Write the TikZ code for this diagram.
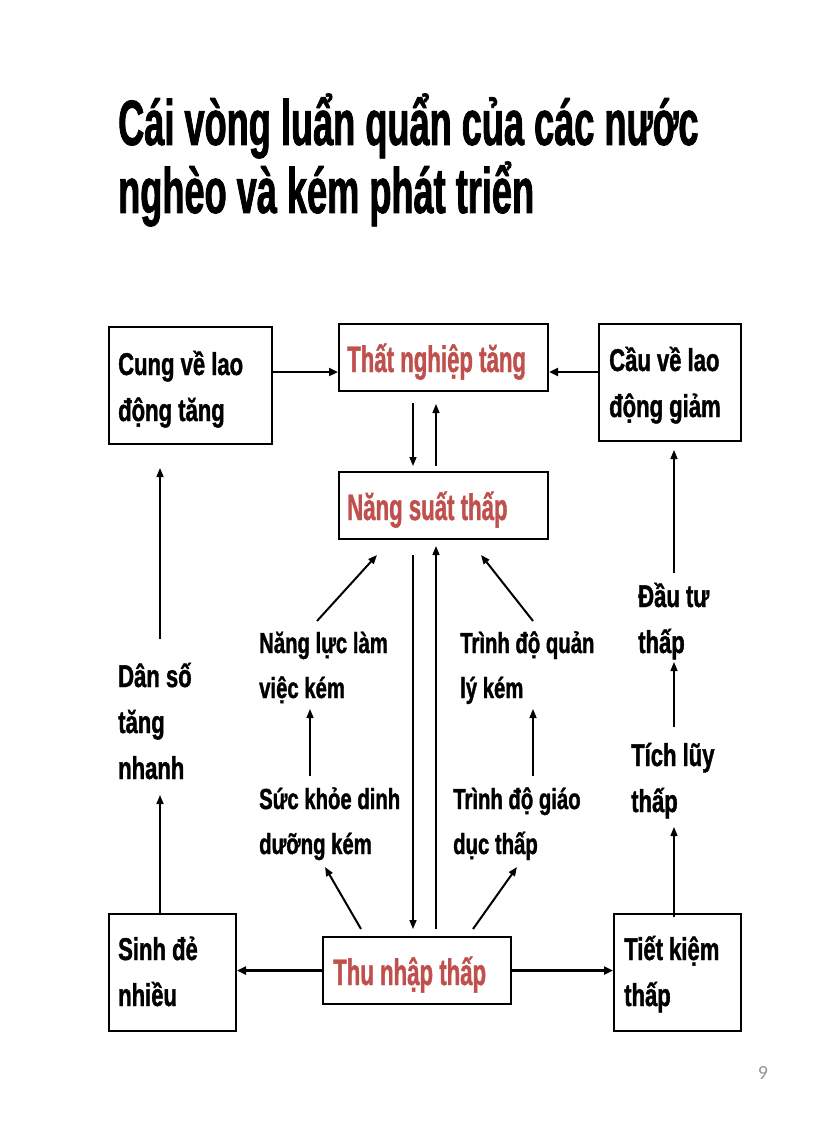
\documentclass[tikz,border=0pt]{standalone}
\usepackage{fontspec}
\setmainfont{Liberation Sans}
\newfontfamily\titlefont{Liberation Sans}[FakeStretch=0.565,FakeBold=1.2]
\newfontfamily\boxfont{Liberation Sans}[FakeStretch=0.70,FakeBold=1.2]
\newfontfamily\redfont{Liberation Sans}[FakeStretch=0.60,FakeBold=1.0]
\newfontfamily\numfont{Carlito}
\usetikzlibrary{arrows.meta,calc}
\definecolor{redtxt}{RGB}{192,80,77}
\definecolor{numgray}{RGB}{150,150,150}
\begin{document}
\begin{tikzpicture}[x=1pt,y=-1pt,
  box/.style={draw, line width=2pt, inner sep=0pt},
  txt/.style={font=\boxfont\bfseries\fontsize{31.5}{46}\selectfont, align=left, inner sep=0pt, anchor=base west},
  stxt/.style={txt, font=\boxfont\bfseries\fontsize{29}{45}\selectfont},
  rtxt/.style={font=\redfont\bfseries\fontsize{37}{46}\selectfont, inner sep=0pt, anchor=base west, text=redtxt},
  arr/.style={-{Triangle[length=9pt,width=7pt]}, line width=1.5pt},
  tarr/.style={-{Triangle[length=9pt,width=8pt]}, line width=2.5pt}]
\useasboundingbox[fill=white] (0,0) rectangle (816,1123);

% title (base anchor = last line)
\node[font=\titlefont\bfseries\fontsize{64}{68}\selectfont, align=left, anchor=base west, inner sep=0pt] (title) at (118,213) {Cái vòng luẩn quẩn của các nước\\nghèo và kém phát triển};

% boxes
\node[box, minimum width=163pt, minimum height=117pt] (cung) at (190.5,385.5) {};
\node[box, minimum width=209pt, minimum height=67pt] (that) at (443.5,357.5) {};
\node[box, minimum width=209pt, minimum height=67pt] (nang) at (443.5,505.5) {};
\node[box, minimum width=142pt, minimum height=117pt] (cau) at (670,382.5) {};
\node[box, minimum width=127pt, minimum height=117pt] (sinh) at (172.5,972.5) {};
\node[box, minimum width=188pt, minimum height=67pt] (thu) at (417,970.5) {};
\node[box, minimum width=127pt, minimum height=117pt] (tiet) at (677.5,972.5) {};

% texts (multi-line nodes anchored at the baseline of their last line)
\node[txt] (tcung) at (118,421) {Cung về lao\\động tăng};
\node[rtxt] (tthat) at (347,372) {Thất nghiệp tăng};
\node[rtxt] (tnang) at (347,520) {Năng suất thấp};
\node[txt] (tcau) at (609,417) {Cầu về lao\\động giảm};
\node[txt] (dan) at (118,779) {Dân số\\tăng\\nhanh};
\node[stxt] (nangluc) at (259,698) {Năng lực làm\\việc kém};
\node[stxt] (quan) at (460,698) {Trình độ quản\\lý kém};
\node[stxt] (suckhoe) at (259,854) {Sức khỏe dinh\\dưỡng kém};
\node[stxt] (giao) at (453,854) {Trình độ giáo\\dục thấp};
\node[txt] (dautu) at (638,653) {Đầu tư\\thấp};
\node[txt] (tichluy) at (631,812) {Tích lũy\\thấp};
\node[txt] (tsinh) at (118,1006) {Sinh đẻ\\nhiều};
\node[rtxt] (tthu) at (333,985) {Thu nhập thấp};
\node[txt] (ttiet) at (624,1006) {Tiết kiệm\\thấp};
\node[font=\numfont\fontsize{20}{20}\selectfont, text=numgray, inner sep=0pt] (page) at (763,1073) {9};

% top row
\draw[tarr] ($(cung.east)+(0,-13.5)$) -- ($(that.west)+(0,14.5)$);
\draw[tarr] ($(cau.west)+(0,-10.5)$) -- ($(that.east)+(0,14.5)$);
\draw[arr] ($(that.south)+(-30.5,11)$) -- ($(nang.north)+(-30.5,-5)$);
\draw[arr] ($(nang.north)+(-7.5,-5)$) -- ($(that.south)+(-7.5,12)$);

% left column
\draw[arr] ($(cung.south)+(-30.5,194)$) -- ($(cung.south)+(-30.5,23)$);
\draw[arr] ($(sinh.north)+(-12.5,0)$) -- ($(sinh.north)+(-12.5,-118)$);

% right column
\draw[arr] ($(tiet.north)+(-3.5,4)$) -- ($(tiet.north)+(-3.5,-86)$);
\draw[arr] ($(tiet.north)+(-3.5,-186)$) -- ($(tiet.north)+(-3.5,-251)$);
\draw[arr] ($(cau.south)+(4,131)$) -- ($(cau.south)+(4,8)$);

% middle
\draw[arr] ($(nang.south)+(-30.5,15)$) -- ($(thu.north)+(-4,-7)$);
\draw[arr] ($(thu.north)+(19,-7)$) -- ($(nang.south)+(-7.5,6)$);
\draw[arr, line width=2pt] ($(thu.north)+(-56,-7)$) -- ($(thu.north)+(-92,-69)$);
\draw[arr, line width=2pt] ($(thu.north)+(56,-7)$) -- ($(thu.north)+(100,-69)$);
\draw[arr] ($(thu.north)+(-107,-160)$) -- ($(thu.north)+(-107,-227)$);
\draw[arr] ($(thu.north)+(116,-160)$) -- ($(thu.north)+(116,-227)$);
\draw[arr, line width=2pt] ($(nang.south)+(-126.5,81)$) -- ($(nang.south)+(-66.5,15)$);
\draw[arr, line width=2pt] ($(nang.south)+(89.5,81)$) -- ($(nang.south)+(37.5,15)$);

% bottom row
\draw[tarr] (thu.west) -- (thu.west -| sinh.east);
\draw[tarr] (thu.east) -- (thu.east -| tiet.west);
\end{tikzpicture}
\end{document}
